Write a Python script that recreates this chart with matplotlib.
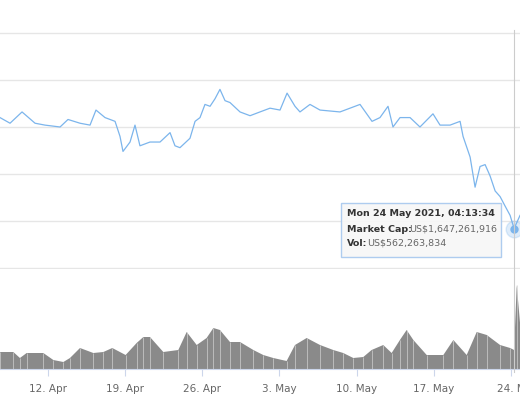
import matplotlib
matplotlib.use("Agg")
from matplotlib import pyplot as plt
import numpy as np

# days counted from 1 Apr 2021 (day 31 = 1 May)
cap_day = [7.64, 8.55, 9.64, 10.82, 11.72, 13.09, 13.81, 14.9, 15.81, 16.35, 17.17, 18.08, 18.53, 18.8,
           19.44, 19.89, 20.34, 21.25, 22.16, 23.07, 23.52, 23.97, 24.88, 25.34, 25.79, 26.24, 26.7,
           27.15, 27.6, 28.06, 28.51, 29.42, 30.33, 31.23, 32.14, 33.05, 33.69, 34.41, 34.86, 35.77,
           36.68, 38.49, 40.31, 41.4, 42.12, 42.85, 43.3, 43.94, 44.85, 45.75, 46.93, 47.57, 48.48,
           49.39, 49.66, 50.3, 50.75, 51.2, 51.66, 52.11, 52.57, 53.02, 53.47, 53.93, 54.29, 54.83]
cap_bn = [2.25, 2.22, 2.28, 2.22, 2.21, 2.2, 2.24, 2.22, 2.21, 2.29, 2.25, 2.23, 2.15, 2.07,
          2.12, 2.21, 2.1, 2.12, 2.12, 2.17, 2.1, 2.09, 2.14, 2.23, 2.25, 2.32, 2.31, 2.35, 2.4,
          2.34, 2.33, 2.28, 2.26, 2.28, 2.3, 2.29, 2.38, 2.31, 2.28, 2.32, 2.29, 2.28, 2.32, 2.23,
          2.25, 2.31, 2.2, 2.25, 2.25, 2.2, 2.27, 2.21, 2.21, 2.23, 2.15, 2.04, 1.88, 1.99, 2.0,
          1.94, 1.86, 1.83, 1.78, 1.73, 1.66, 1.73]

vol_day = [7.64, 8.85, 9.45, 10.06, 11.57, 12.48, 13.39, 13.99, 14.9, 16.11, 17.02, 17.83, 19.04,
           20.04, 20.65, 21.25, 22.46, 23.82, 24.58, 25.49, 26.39, 27.0, 27.6, 28.51, 29.42, 30.63,
           31.53, 32.44, 33.65, 34.41, 35.47, 36.68, 37.88, 38.79, 39.7, 40.61, 41.36, 42.42, 43.18,
           43.93, 44.54, 45.15, 46.36, 47.87, 48.78, 49.99, 50.9, 51.81, 53.02, 53.93, 54.29, 54.53,
           54.83]
vol_px = [17, 17, 11, 16, 16, 9, 7, 11, 21, 16, 17, 21, 14, 26, 32, 32, 17, 19, 37, 24, 31, 41,
          39, 27, 27, 19, 14, 11, 8, 24, 31, 24, 19, 16, 11, 12, 19, 24, 16, 29, 39, 29, 14, 14,
          29, 14, 37, 34, 24, 21, 19, 84, 46]

tick_days = [12, 19, 26, 33, 40, 47, 54]
tick_labels = ["12. Apr", "19. Apr", "26. Apr", "3. May", "10. May", "17. May", "24. M"]

W, H = 520, 400
x0, x1 = 7.64, 7.64 + W / 11.02

fig = plt.figure(figsize=(5.2, 4.0), dpi=100)

ax = fig.add_axes([0, (H - 269) / H, 1, 237 / H])
ax.plot(cap_day, cap_bn, color="#7cb5ec", linewidth=0.9)
ax.plot(cap_day[-2], cap_bn[-2], "o", color="#7cb5ec", markersize=5)
ax.plot(cap_day[-2], cap_bn[-2], "o", color="#7cb5ec", markersize=12, alpha=0.25)
ax.set_xlim(x0, x1)
ax.set_ylim(1.445, 2.705)
ax.set_yticks(np.arange(1.45, 2.71, 0.25))
ax.grid(axis="y", color="#e6e6e6", linewidth=1)
ax.set_xticks([])
ax.tick_params(left=False, labelleft=False)
for s in ax.spines.values():
    s.set_visible(False)

vax = fig.add_axes([0, (H - 369) / H, 1, 100 / H])
vax.fill_between(vol_day, vol_px, color="#8a8a8a", linewidth=0)
vax.vlines(vol_day, 0, vol_px, color="#d0d0d0", linewidth=0.5)
vax.set_xlim(x0, x1)
vax.set_ylim(0, 100)
vax.set_yticks([])
vax.set_xticks(tick_days)
vax.set_xticklabels(tick_labels, color="#666666", fontsize=7.5)
vax.tick_params(axis="x", length=5, color="#ccd6eb", pad=6)
for k, s in vax.spines.items():
    s.set_visible(k == "bottom")
vax.spines["bottom"].set_color("#ccd6eb")

# crosshair
fig.add_artist(plt.Line2D([514 / W, 514 / W], [(H - 372) / H, (H - 30) / H],
                          color="#cccccc", linewidth=0.8))

# tooltip
fig.add_artist(plt.Rectangle((341 / W, 1 - 257 / H), 160 / W, 54 / H, facecolor="#f7f7f7",
                             edgecolor="#a8c8ee", linewidth=1, alpha=0.92, zorder=5))
tip = dict(fontsize=6.8, va="center", zorder=6)
fig.text(347 / W, 1 - 213 / H, "Mon 24 May 2021, 04:13:34", fontweight="bold", color="#333333", **tip)
fig.text(347 / W, 1 - 229 / H, "Market Cap:", fontweight="bold", color="#333333", **tip)
fig.text(409 / W, 1 - 229 / H, "US$1,647,261,916", color="#666666", **tip)
fig.text(347 / W, 1 - 243 / H, "Vol:", fontweight="bold", color="#333333", **tip)
fig.text(367 / W, 1 - 243 / H, "US$562,263,834", color="#666666", **tip)

fig.savefig("out.png", dpi=100)
